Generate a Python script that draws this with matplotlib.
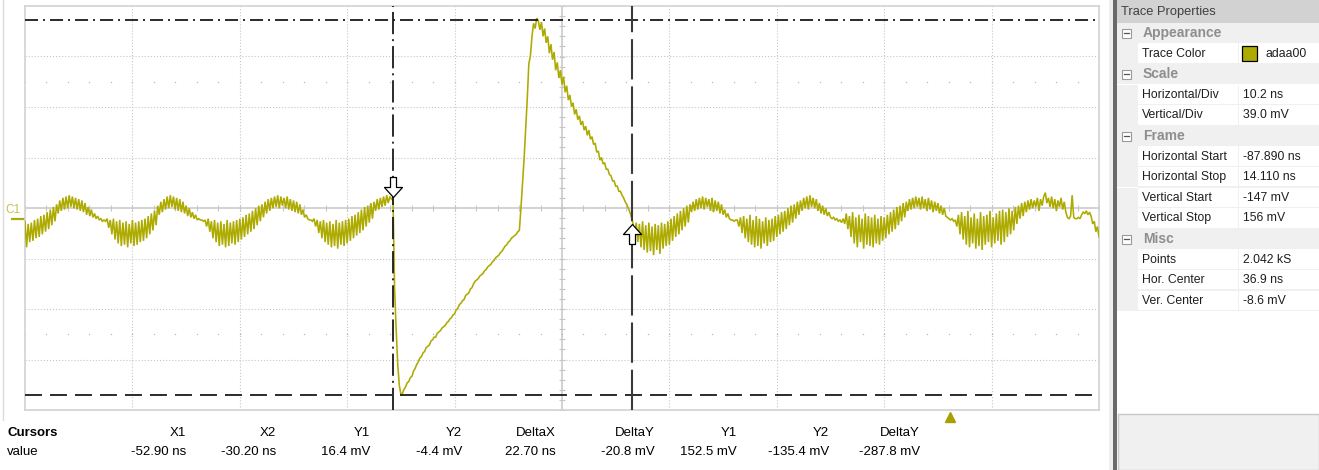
import numpy as np
import matplotlib
matplotlib.use("Agg")
import matplotlib.pyplot as plt
from matplotlib.path import Path
from matplotlib.patches import Rectangle
from matplotlib.transforms import blended_transform_factory

plt.rcParams['font.family'] = ['Liberation Sans', 'DejaVu Sans']
plt.rcParams['lines.scale_dashes'] = False

# ---------------- data ----------------
T_START, T_STOP = -87.890, 14.110      # ns (displayed frame)
V_BOTTOM, V_TOP = -146.9, 163.3        # mV (displayed frame)
H_DIVS, V_DIVS = 10, 8
DT = 0.15                              # ns between listed samples

T_BEFORE = -87.89                      # start time of each listed stretch
T_PULSE = -52.94
T_AFTER = -29.99

trace_before = [
    -2, -22, -4, -18, -3, -17, -1, -15, 0, -14, 2, -12, 3, -10, 5, -8, 7, -5, 9, -2,
    11, 4, 14, 6, 16, 7, 17, 8, 18, 9, 17, 8, 16, 7, 15, 6, 14,
    5, 12, 3, 9, 2, 7, 1, 4, 0, 2,
    -1, 0, -2, -1, -2,
    0, -7, -1, -12, 0, -16, -2, -19, -1, -21, -3, -20, -2, -22, -4, -19, -1, -21, -3, -20,
    -2, -18, -1, -17, 0,
    -15, 2, -12, 4, -9, 6, -5,
    10, 3, 13, 5, 15, 7, 17, 8, 18, 9, 17, 7, 16, 6, 15, 5,
    13, 4, 10, 2, 8, 1, 5, 0, 3, -1,
    0, -1, -1, -2, -1,
    -6, 0, -10, -2, -15, -1, -18, -3, -21, -2, -20, -4, -22, -1, -21, -3, -19, -2, -20, -1, -18,
    0, -16, 1, -14, 3, -12, 4, -10, 6, -8, 8, -5, 10, -2, 11, 1,
    13, 4, 15, 6, 16, 8, 17, 9, 18, 8, 17, 10, 16, 8, 17, 7, 15, 6, 14, 5, 13, 4, 11,
    3, 7, 1, 3,
    0, -1, -1, -2,
    0, -6, -1, -11, -2, -15, -1, -18, -3, -20, -2, -22, -4, -21, -1, -23, -3, -20, -2, -21,
    -1, -19, 0, -17,
    2, -15, 3, -13, 5, -11, 7, -9, 9, -6, 10, -3, 12, 0, 13,
    6, 15, 7, 16, 9, 17, 10, 18, 12, 17, 15,
]

trace_pulse = [
    16,
    -54, -85, -112, -128, -135,
    -134, -131, -129, -126, -125, -122, -121, -117, -115, -112,
    -110, -107, -106, -103, -102, -99, -98, -97, -94, -93,
    -91, -91, -88, -87, -86, -84, -83, -82, -80, -79,
    -77, -76, -74, -73, -70, -69, -66, -65, -63, -62,
    -59, -58, -57, -54, -53, -50, -48, -47, -46, -44,
    -43, -42, -40, -39, -37, -36, -35, -33, -32, -30,
    -29, -28, -26, -25, -23, -21, -20, -18, -17, -15,
    -14, -13, -12, -10, -9,
    8, 27, 46, 69, 92, 119, 125, 140, 150, 146, 154, 152, 145, 151, 140, 146, 135,
    140, 127, 134, 122, 128, 114, 120, 108, 114, 103,
    109, 97, 102, 91, 95, 86, 89, 80, 84, 76,
    79, 72, 75, 68, 71, 64, 68, 61, 63, 57,
    58, 51, 52, 45, 47, 42, 43, 38, 38, 34,
    33, 29, 29, 25, 25, 21, 21, 18, 16, 13,
    11, 8, 5, 1, -4,
]

trace_after = [
    -12, -3, -18, -4, -22, -2, -24, -5, -26, -3, -25, -6, -28, -4, -24, -5, -27, -3, -23, -4,
    -21, -2, -20,
    0, -17, 2, -14, 4, -12, 6, -9, 8, -6, 10, -3, 11,
    5, 13, 6, 15, 7, 16, 8, 17, 7, 16, 9, 15, 6, 16, 5, 14, 6, 13, 4, 11,
    3, 7, 1, 4, 0,
    -1, -1, -2, -1, -1,
    -6, 1, -11, 2, -15, 0, -18, 3, -20, -1, -22, 2, -21, 0, -23, -2, -19, 1, -21, -1,
    -18, 0, -17, 2,
    -14, 3, -12, 5, -10, 6, -8, 8, -5, 10, -3, 11, 0, 13, 3,
    14, 6, 16, 8, 17, 7, 18, 9, 16, 8, 15,
    6, 12, 4, 10, 3, 8, 2, 5, 1,
    0, 1, -1, 0, -2, -1, -3, 0, -4,
    4, -8, 2, -14, 5, -19, 1, -22, 3, -18, 0, -23, 4, -20, 2, -21, 1, -22, 3, -19,
    0, -20, 2, -17, 1, -15,
    3, -12, 5, -10, 7, -8, 9, -5, 10, -2, 12, 1, 13,
    6, 15, 7, 16, 8, 17, 9, 16, 7, 17, 8, 15, 6, 16, 7, 14, 5, 13, 6, 12, 4, 10, 3, 8, 2,
    1, 0, -1, 0, -2, -1,
    -6, 3, -12, 5, -16, 2, -20, 6, -22, 1, -19, 4, -23, 0, -21, 5, -24, 2, -20, 3,
    -18, 6, -22, 1, -19, 4, -17, 6, -20,
    7, -18, 5, -14, 8, -12, 6, -9, 9,
    -4, 10, 0, 12, 2, 13, 5, 14, 7,
    15, 8, 14, 9, 16, 6, 15, 10, 17, 20, 12, 16, 9, 17, 8, 15, 6, 14, 9, 16, 7, 13, 5,
    1, 0, 2, 18, 1, 0, 0, 1, 0,
    3, 5, 4, 6, 3, 5, 2,
    -4, -2, -10, -6, -14,
]

CURSOR_X1, CURSOR_X2 = -52.90, -30.20      # ns
CURSOR_Y1, CURSOR_Y2 = 152.5, -135.4       # mV
TRACE_AT_X1, TRACE_AT_X2 = 16.4, -4.4      # mV
TRIGGER_T = 0.0
CHANNEL_ZERO = 0.0

cursor_headers = ["X1", "X2", "Y1", "Y2", "DeltaX", "DeltaY", "Y1", "Y2", "DeltaY"]
cursor_values = ["-52.90 ns", "-30.20 ns", "16.4 mV", "-4.4 mV", "22.70 ns",
                 "-20.8 mV", "152.5 mV", "-135.4 mV", "-287.8 mV"]

prop_sections = ["Appearance", "Scale", "Frame", "Misc"]
prop_names = [["Trace Color"],
              ["Horizontal/Div", "Vertical/Div"],
              ["Horizontal Start", "Horizontal Stop", "Vertical Start", "Vertical Stop"],
              ["Points", "Hor. Center", "Ver. Center"]]
prop_values = [["adaa00"],
               ["10.2 ns", "39.0 mV"],
               ["-87.890 ns", "14.110 ns", "-147 mV", "156 mV"],
               ["2.042 kS", "36.9 ns", "-8.6 mV"]]
TRACE_COLOR = "#adaa00"

# ---------------- figure ----------------
W, H = 1319, 470
fig = plt.figure(figsize=(W / 100, H / 100), dpi=100)
fig.patch.set_facecolor("white")

bg = fig.add_axes([0, 0, 1, 1], zorder=0)
bg.set_xlim(0, W)
bg.set_ylim(H, 0)
bg.axis("off")

ax = fig.add_axes([25 / W, 1 - 410 / H, 1074 / W, 404 / H], zorder=2)
ax.set_xlim(T_START, T_STOP)
ax.set_ylim(V_BOTTOM, V_TOP)
ax.set_xticks([])
ax.set_yticks([])
for s in ax.spines.values():
    s.set_color("#d2d2d2")
    s.set_linewidth(1.2)

GRID = "#c6c6c6"
xg = np.linspace(T_START, T_STOP, H_DIVS + 1)
yg = np.linspace(V_BOTTOM, V_TOP, V_DIVS + 1)
xc = xg[H_DIVS // 2]
yc = yg[V_DIVS // 2]
for k, x in enumerate(xg[1:-1], start=1):
    if k == H_DIVS // 2:
        ax.axvline(x, color=GRID, lw=1.1, zorder=1)
    else:
        ax.axvline(x, color=GRID, lw=0.8, ls=(0, (0.8, 1.4)), zorder=1)
for k, y in enumerate(yg[1:-1], start=1):
    if k == V_DIVS // 2:
        ax.axhline(y, color=GRID, lw=1.1, zorder=1)
    else:
        ax.axhline(y, color=GRID, lw=0.8, ls=(0, (0.8, 1.4)), zorder=1)

xt = np.linspace(T_START, T_STOP, H_DIVS * 5 + 1)
yt = np.linspace(V_BOTTOM, V_TOP, V_DIVS * 5 + 1)
ax.plot(xt, np.full_like(xt, yc), ls="none", marker="|", ms=5, mew=0.8, color=GRID, zorder=1)
ax.plot(np.full_like(yt, xc), yt, ls="none", marker="_", ms=5, mew=0.8, color=GRID, zorder=1)
dv = (V_TOP - V_BOTTOM) / V_DIVS
for yy in (yc + 2.5 * dv, yc - 2.5 * dv):
    ax.plot(xt, np.full_like(xt, yy), ls="none", marker="s", ms=0.9, mew=0,
            color="#b8b8b8", zorder=1)

# trace
t_all = np.concatenate([T_BEFORE + np.arange(len(trace_before)) * DT,
                        T_PULSE + np.arange(len(trace_pulse)) * DT,
                        T_AFTER + np.arange(len(trace_after)) * DT])
v_all = np.concatenate([trace_before, trace_pulse, trace_after]).astype(float)
ax.plot(t_all, v_all, color=TRACE_COLOR, lw=1.15, zorder=3, solid_joinstyle="miter")

# cursors
ax.axhline(CURSOR_Y1, color="#1a1a1a", lw=1.3, ls=(0, (9.4, 3.6, 1.4, 3.6)), zorder=4)
ax.axhline(CURSOR_Y2, color="#1a1a1a", lw=1.3, ls=(0, (12.2, 5.8)), zorder=4)
ax.axvline(CURSOR_X1, color="#1a1a1a", lw=1.3, ls=(0, (16, 3.6, 1.4, 3.6)), zorder=4)
ax.axvline(CURSOR_X2, color="#3a3a3a", lw=1.5, ls=(0, (29, 5)), zorder=4)

down_arrow = Path([(0, 0), (-9, 10), (-3, 10), (-3, 20), (3, 20), (3, 10), (9, 10), (0, 0)],
                  [Path.MOVETO] + [Path.LINETO] * 6 + [Path.CLOSEPOLY])
up_arrow = Path([(0, 0), (-9, -10), (-3, -10), (-3, -20), (3, -20), (3, -10), (9, -10), (0, 0)],
                [Path.MOVETO] + [Path.LINETO] * 6 + [Path.CLOSEPOLY])
ax.plot([CURSOR_X1], [TRACE_AT_X1], marker=down_arrow, ms=28.8, mfc="white", mec="black",
        mew=0.9, ls="none", zorder=6, clip_on=False)
ax.plot([CURSOR_X2], [TRACE_AT_X2], marker=up_arrow, ms=28.8, mfc="white", mec="black",
        mew=0.9, ls="none", zorder=6, clip_on=False)

# trigger marker below the graticule
trig_tr = blended_transform_factory(ax.transData, bg.transData)
bg.plot([TRIGGER_T], [417], marker="^", ms=7.5, color="#a8a000", ls="none",
        transform=trig_tr, clip_on=False)

# channel label and zero marker
zero_tr = blended_transform_factory(bg.transData, ax.transData)
bg.plot([11, 25], [CHANNEL_ZERO, CHANNEL_ZERO], color=TRACE_COLOR, lw=1.6,
        transform=zero_tr, solid_capstyle="butt")
bg.text(5, 210, "C1", color="#c9bf4a", fontsize=8.5, va="center", ha="left")

# left window edge
bg.plot([3, 3], [0, 420], color="#dcdcdc", lw=1)

# ---------------- cursor table ----------------
bg.text(7, 433, "Cursors", fontsize=9.5, fontweight="bold", va="center", ha="left")
bg.text(7, 452, "value", fontsize=9.5, va="center", ha="left")
col_right = [186, 276, 370, 462, 556, 655, 737, 829, 920]
for xr, hd, val in zip(col_right, cursor_headers, cursor_values):
    bg.text(xr, 433, hd, fontsize=9.5, va="center", ha="right")
    bg.text(xr, 452, val, fontsize=9.5, va="center", ha="right")

# ---------------- property panel ----------------
bg.add_patch(Rectangle((1109, 0), 8, H, fc="#eeeeee", ec="none"))
bg.add_patch(Rectangle((1112.5, 0), 4, H, fc="#6a6a6a", ec="none"))
bg.add_patch(Rectangle((1117, 0), W - 1117, H, fc="white", ec="none"))
bg.add_patch(Rectangle((1117, 0), W - 1117, 22.5, fc="#d2d2d2", ec="none"))
bg.text(1121, 11.5, "Trace Properties", fontsize=9.3, color="#404040", va="center", ha="left")

ROW0, RH = 22.7, 20.6
row = 0
GUT = "#f0f0f0"
for sec, names, vals in zip(prop_sections, prop_names, prop_values):
    ytop = ROW0 + row * RH
    cy = ytop + RH / 2
    bg.add_patch(Rectangle((1117, ytop), W - 1117, RH, fc=GUT, ec="none"))
    bg.add_patch(Rectangle((1122, cy - 4.5), 9, 9, fc="white", ec="#9a9a9a", lw=0.8))
    bg.plot([1124.3, 1128.7], [cy, cy], color="#555555", lw=0.9)
    bg.text(1143, cy, sec, fontsize=10, fontweight="bold", color="#8e8e8e",
            va="center", ha="left")
    row += 1
    for nm, vl in zip(names, vals):
        ytop = ROW0 + row * RH
        cy = ytop + RH / 2
        bg.add_patch(Rectangle((1117, ytop), 20.5, RH, fc=GUT, ec="none"))
        bg.add_patch(Rectangle((1137.5, ytop), 100, RH - 1.2, fc="white", ec="none"))
        bg.add_patch(Rectangle((1237.5, ytop), 1.5, RH, fc=GUT, ec="none"))
        bg.add_patch(Rectangle((1239, ytop), W - 1239, RH - 1.2, fc="white", ec="none"))
        bg.add_patch(Rectangle((1137.5, ytop + RH - 1.2), W - 1137.5, 1.2, fc=GUT, ec="none"))
        bg.text(1142, cy, nm, fontsize=8.8, color="#1e1e1e", va="center", ha="left")
        if nm == "Trace Color":
            bg.add_patch(Rectangle((1242, cy - 7.5), 15, 15, fc=TRACE_COLOR, ec="black", lw=0.9))
            bg.text(1265, cy, vl, fontsize=8.8, color="#1e1e1e", va="center", ha="left")
        else:
            bg.text(1243, cy, vl, fontsize=8.8, color="#1e1e1e", va="center", ha="left")
        row += 1

# lower description box
bg.add_patch(Rectangle((1118, 414), W - 1118, H - 414, fc="#f0f0f0", ec="#c8c8c8", lw=1))

fig.savefig("out.png", dpi=100)
